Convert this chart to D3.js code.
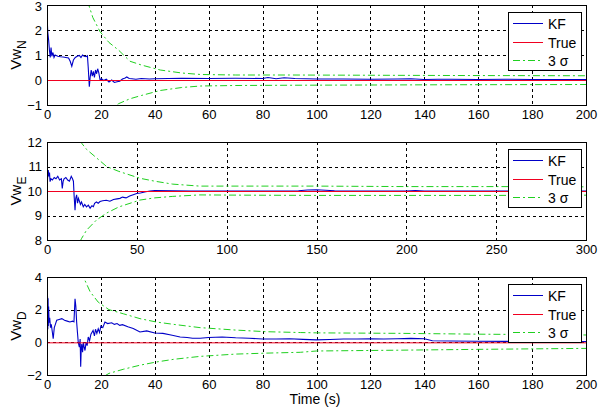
<!DOCTYPE html>
<html><head><meta charset="utf-8">
<script src="https://cdn.jsdelivr.net/npm/d3@7"></script>
<style>body{margin:0;background:#fff}svg{display:block}text{font-family:"Liberation Sans",Arial,sans-serif}</style>
</head><body><svg id="c" width="600" height="410"></svg>
<script>
// ---- data ----
const xTicks200 = [0,20,40,60,80,100,120,140,160,180,200];
const xTicks300 = [0,50,100,150,200,250,300];
const yTicksN = [-1,0,1,2,3];
const yTicksE = [8,9,10,11,12];
const yTicksD = [-2,0,2,4];
const legendLabels = ["KF","True","3 σ"];

const tN = [0,0.3,0.6,0.9,1.2,1.5,1.8,2.2,2.6,3,4,5,6,7,8,8.6,9.2,9.8,10.5,11.2,12,12.6,13.2,13.8,14.5,15,15.3,15.7,16,16.4,16.8,17.2,17.6,18,18.4,18.8,19.2,19.7,20.2,21,22,23,24,25,26,27,28,29,29.6,30.5,31.5,33,35,38,40,45,50,60,70,80,82,85,88,92,100,110,120,130,135,140,145,150,160,170,180,190,200];
const kfN = [2.6,1.9,1.6,1.2,0.9,1.3,0.95,1.1,0.9,1.0,0.95,0.93,0.92,0.9,0.88,0.75,0.55,0.8,0.9,0.95,0.98,0.9,1.0,0.95,0.93,0.97,0.5,-0.27,0.1,0.4,0.15,0.35,0.1,0.4,0.25,0.45,0.3,0.0,0.05,-0.02,0.03,-0.08,0.0,-0.1,-0.07,-0.05,0.04,0.08,0.12,0.06,0.05,0.03,0.06,0.04,0.05,0.06,0.07,0.06,0.07,0.06,0.1,0.05,0.09,0.06,0.04,0.04,0.03,0.04,0.05,0.02,0.03,0.03,0.02,0.03,0.02,0.02,0.02];
const sigTN = [10,13,15.5,17,19.7,23,26.5,30.8,35,42,50,57,70,90,120,150,200];
const upN = [5.5,4,3,2.5,1.93,1.5,1.2,0.75,0.6,0.4,0.28,0.22,0.2,0.2,0.19,0.18,0.17];
const lowN = [-4,-3,-2.4,-2,-1.5,-1.2,-0.95,-0.75,-0.62,-0.42,-0.3,-0.24,-0.22,-0.21,-0.2,-0.19,-0.18];
const trueN = 0;

const tE = [0,0.3,0.7,1.0,1.4,1.7,2.2,3,4,5,6,7,8,8.5,9,9.5,10.5,11.5,12.5,13.5,14.2,14.7,15.1,15.6,16,16.5,17,17.5,18,18.6,19.2,20.2,21,22,23,24,25,25.8,26.5,27.5,28.5,29.5,31,33,35,37,39,40.6,42,44,46,48,49.9,52,55,57.3,60,70,80,100,120,140,145,150,155,160,180,200,205,210,250,300];
const kfE = [10.0,10.5,10.86,10.6,10.75,10.38,10.5,10.45,10.55,10.5,10.6,10.45,10.5,10.1,10.4,10.5,10.55,10.45,10.4,10.6,10.5,10.4,9.8,9.22,9.7,9.84,9.5,9.7,9.6,9.45,9.55,9.36,9.45,9.35,9.42,9.3,9.4,9.36,9.5,9.55,9.5,9.57,9.6,9.62,9.58,9.65,9.68,9.7,9.75,9.72,9.8,9.85,9.9,9.92,9.97,10.0,10.02,10.01,10.0,10.0,10.0,10.01,10.04,10.05,10.03,10.01,10.0,10.0,10.02,10.0,10.0,10.0];
const sigTE = [12,16,19.3,22,27.6,33.2,40,51.7,60,70,85,110,150,200,250,300];
const upE = [13.2,12.5,11.95,11.7,11.35,11.0,10.8,10.52,10.4,10.28,10.2,10.2,10.2,10.18,10.18,10.17];
const lowE = [6.8,7.6,8.07,8.4,8.82,9.1,9.35,9.63,9.72,9.78,9.84,9.83,9.82,9.82,9.82,9.83];
const trueE = 10;

const tD = [0,0.1,0.2,0.3,0.4,0.5,0.6,0.8,1.0,1.3,1.6,2.0,2.3,2.7,3.1,3.6,4.5,5.5,6.5,7.5,8.5,9.5,10,10.4,10.7,11,11.3,11.6,12,12.3,12.5,12.7,12.9,13.2,13.5,13.8,14.1,14.5,14.9,15.3,15.8,16.3,17.1,17.6,18,18.5,19,19.5,20,20.7,21.5,22.5,24,25,26,27,28,30,32,34.5,37,40,43,46,49.4,52,54,56.8,60,65,70,75,80,85,90,95,100,105,110,115,120,125,130,135,140,143,150,160,170,180,190,200];
const kfD = [2.8,0.6,2.8,0.8,2.7,1.0,2.2,1.2,1.5,0.9,1.1,0.6,0.22,0.9,1.1,1.35,1.4,1.45,1.35,1.3,1.25,1.3,1.25,2.67,2.2,1.24,0.6,0.0,-0.3,0.2,-1.5,-0.4,-0.1,-0.6,0.0,-0.3,-0.5,0.0,-0.2,0.33,0.1,0.5,0.73,0.4,0.8,0.55,0.83,0.6,1.0,0.9,1.24,1.15,1.2,1.1,1.15,1.04,1.08,0.95,0.85,0.63,0.7,0.57,0.55,0.45,0.33,0.3,0.25,0.25,0.3,0.33,0.28,0.25,0.2,0.2,0.22,0.18,0.15,0.17,0.2,0.2,0.22,0.2,0.22,0.24,0.22,0.1,0.08,0.07,0.06,0.06,0.05,0.05];
const sigTD = [8,11,13.5,16,19,23,28.3,34.5,40.7,47,56.8,70,81.5,94,100,131,160,200];
const upD = [6,4.8,4.0,3.1,2.46,2.0,1.75,1.45,1.24,1.1,0.9,0.75,0.65,0.6,0.58,0.55,0.5,0.45];
const lowD = [-6,-4.5,-3.5,-2.8,-2.3,-1.9,-1.65,-1.4,-1.2,-1.04,-0.86,-0.72,-0.66,-0.61,-0.53,-0.48,-0.43,-0.37];
const trueD = 0;

// ---- drawing ----
const svg = d3.select("#c");
const X0 = 47, X1 = 586;
const panels = [
  {id:"N", sub:"N", y0:5, y1:105, xMax:200, xt:xTicks200, yDom:[-1,3], yt:yTicksN, t:tN, kf:kfN, st:sigTN, up:upN, lo:lowN, tr:trueN},
  {id:"E", sub:"E", y0:142, y1:240, xMax:300, xt:xTicks300, yDom:[8,12], yt:yTicksE, t:tE, kf:kfE, st:sigTE, up:upE, lo:lowE, tr:trueE},
  {id:"D", sub:"D", y0:277, y1:375, xMax:200, xt:xTicks200, yDom:[-2,4], yt:yTicksD, t:tD, kf:kfD, st:sigTD, up:upD, lo:lowD, tr:trueD}
];
const cBlue = "#0000c8", cRed = "#f00020", cGreen = "#20d020";
const zip = (a,b) => a.map((v,i)=>[v,b[i]]);

panels.forEach(p => {
  const x = d3.scaleLinear().domain([0,p.xMax]).range([X0,X1]);
  const y = d3.scaleLinear().domain(p.yDom).range([p.y1,p.y0]);
  const g = svg.append("g");
  svg.append("clipPath").attr("id","clip"+p.id).append("rect")
    .attr("x",X0).attr("y",p.y0).attr("width",X1-X0).attr("height",p.y1-p.y0);
  // grid
  const grid = g.append("g").attr("stroke","#000").attr("stroke-width",1).attr("stroke-dasharray","3,3").attr("shape-rendering","crispEdges");
  p.xt.slice(1,-1).forEach(v => grid.append("line").attr("x1",Math.round(x(v))+0.5).attr("x2",Math.round(x(v))+0.5).attr("y1",p.y0).attr("y2",p.y1));
  p.yt.slice(1,-1).forEach(v => grid.append("line").attr("y1",Math.round(y(v))+0.5).attr("y2",Math.round(y(v))+0.5).attr("x1",X0).attr("x2",X1));
  // lines
  const line = d3.line().x(d=>x(d[0])).y(d=>y(d[1]));
  const pg = g.append("g").attr("clip-path","url(#clip"+p.id+")").attr("fill","none");
  pg.append("path").attr("d",line(zip(p.t,p.kf))).attr("stroke",cBlue).attr("stroke-width",1.1);
  pg.append("path").attr("d",line([[0,p.tr],[p.xMax,p.tr]])).attr("stroke",cRed).attr("stroke-width",1).attr("transform","translate(0,0.5)");
  pg.append("path").attr("d",line(zip(p.st,p.up))).attr("stroke",cGreen).attr("stroke-width",1).attr("stroke-dasharray","7,3,2,3");
  pg.append("path").attr("d",line(zip(p.st,p.lo))).attr("stroke",cGreen).attr("stroke-width",1).attr("stroke-dasharray","7,3,2,3");
  // axes
  const ax = d3.axisBottom(x).tickValues(p.xt).tickSize(0).tickPadding(5).tickFormat(d3.format("d"));
  const ag = g.append("g").attr("transform",`translate(0,${p.y1})`).call(ax);
  const ay = d3.axisLeft(y).tickValues(p.yt).tickSize(0).tickPadding(5).tickFormat(d3.format("d"));
  const yg = g.append("g").attr("transform",`translate(${X0},0)`).call(ay);
  [ag,yg].forEach(a => { a.select(".domain").remove(); a.selectAll("text").attr("font-size",13).attr("fill","#000").attr("font-family","'Liberation Sans',Arial,sans-serif"); });
  if (p.id === "N") yg.selectAll(".tick").filter(d => d === 3).select("text").attr("dy","0.45em");
  // box
  g.append("rect").attr("x",X0+0.5).attr("y",p.y0+0.5).attr("width",X1-X0).attr("height",p.y1-p.y0)
    .attr("fill","none").attr("stroke","#000").attr("stroke-width",1).attr("shape-rendering","crispEdges");
  // y label
  const cy = (p.y0+p.y1)/2;
  const yl = g.append("text").attr("transform",`translate(21,${cy}) rotate(-90)`).attr("text-anchor","middle").attr("font-size",15);
  yl.append("tspan").text("Vw");
  yl.append("tspan").attr("dy",5).attr("font-size",12).text(p.sub);
  // legend
  const lx = 508, ly = p.y0 + 7, lw = 73, lh = 58;
  const lg = g.append("g");
  lg.append("rect").attr("x",lx+0.5).attr("y",ly+0.5).attr("width",lw).attr("height",lh).attr("fill","#fff").attr("stroke","#000").attr("shape-rendering","crispEdges");
  const cols = [cBlue,cRed,cGreen];
  legendLabels.forEach((lab,i) => {
    const yy = Math.round(ly + 11 + i*18.5) + 0.5;
    lg.append("line").attr("x1",lx+5).attr("x2",lx+35).attr("y1",yy).attr("y2",yy).attr("stroke",cols[i])
      .attr("stroke-dasharray", i===2 ? "7,3,2,3" : null);
    lg.append("text").attr("x",lx+40).attr("y",yy+5).attr("font-size",14).text(lab);
  });
});
svg.append("text").attr("x",315).attr("y",404).attr("text-anchor","middle").attr("font-size",14).text("Time (s)");
</script></body></html>
